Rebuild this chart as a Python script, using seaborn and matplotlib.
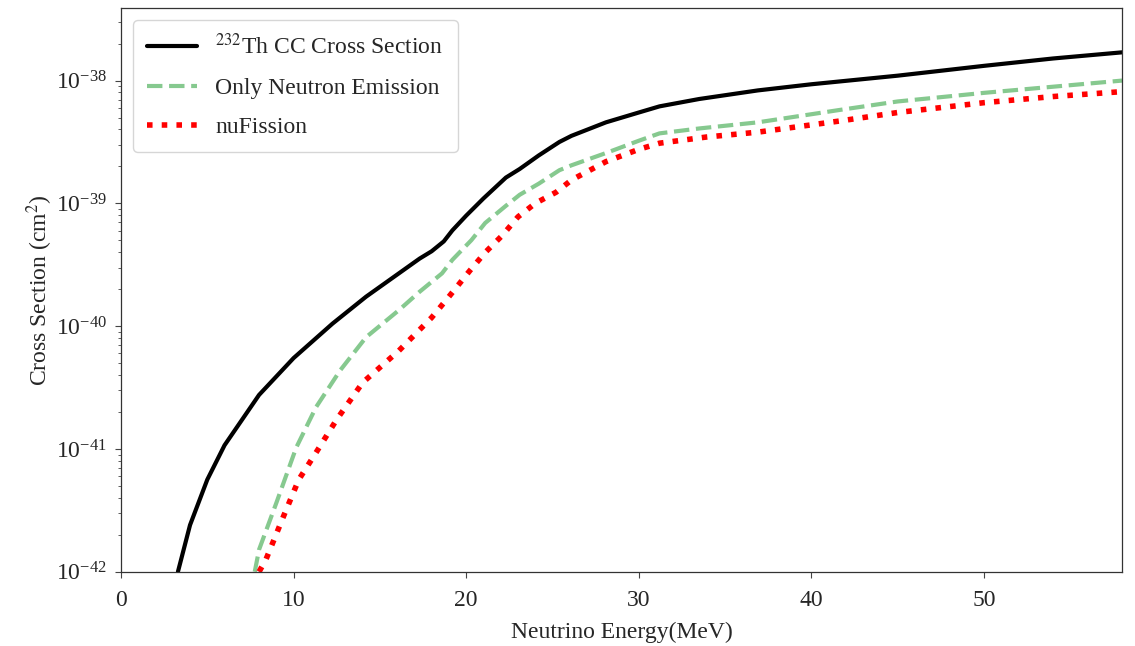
import numpy as np
import pandas as pd
import matplotlib
matplotlib.use("Agg")
import matplotlib.pyplot as plt
import matplotlib.ticker as mticker
import seaborn as sns

# Energía del neutrino (MeV) y log10 de la sección eficaz (cm^2)
energy_th = [3.3, 4.0, 5.0, 6.0, 8.0, 10.0, 12.25, 14.2, 16.1, 17.3, 18.0, 18.7, 19.2, 20.0,
             21.0, 22.3, 23.1, 24.2, 25.4, 26.1, 28.1, 30.0, 31.2, 33.5, 36.9, 40.0, 45.0,
             50.0, 54.0, 58.0]
log_th = [-42.0, -41.62, -41.25, -40.97, -40.56, -40.26, -39.98, -39.76, -39.57, -39.45,
          -39.39, -39.31, -39.22, -39.10, -38.96, -38.79, -38.72, -38.61, -38.50, -38.45,
          -38.34, -38.26, -38.21, -38.15, -38.08, -38.03, -37.96, -37.88, -37.82, -37.77]

energy_n = [7.75, 8.0, 9.0, 10.15, 11.3, 12.7, 14.2, 16.1, 17.3, 18.6, 19.2, 20.3, 21.1,
            22.3, 23.1, 24.2, 25.4, 26.1, 28.1, 30.0, 31.2, 33.5, 36.9, 41.6, 45.0, 50.0,
            54.0, 58.0]
log_n = [-42.0, -41.82, -41.44, -40.99, -40.66, -40.36, -40.09, -39.87, -39.72, -39.57,
         -39.46, -39.30, -39.16, -39.02, -38.93, -38.84, -38.73, -38.69, -38.59, -38.49,
         -38.43, -38.39, -38.34, -38.24, -38.17, -38.10, -38.05, -38.0]

energy_f = [8.0, 8.4, 9.5, 10.3, 11.3, 12.5, 14.0, 16.1, 18.0, 19.0, 20.2, 21.1, 22.1,
            23.0, 24.0, 25.2, 26.1, 28.1, 30.0, 31.2, 33.9, 36.9, 41.6, 45.0, 50.0, 54.0,
            58.0]
log_f = [-42.0, -41.9, -41.52, -41.25, -41.03, -40.76, -40.46, -40.2, -39.93, -39.76,
         -39.55, -39.40, -39.26, -39.11, -39.0, -38.91, -38.81, -38.66, -38.56, -38.51,
         -38.46, -38.42, -38.33, -38.26, -38.18, -38.13, -38.09]

y_ticks = [1e-42, 1e-41, 1e-40, 1e-39, 1e-38]
x_ticks = [0, 10, 20, 30, 40, 50]

df_th = pd.DataFrame({"E": energy_th, "xs": 10.0 ** np.array(log_th)})
df_n = pd.DataFrame({"E": energy_n, "xs": 10.0 ** np.array(log_n)})
df_f = pd.DataFrame({"E": energy_f, "xs": 10.0 ** np.array(log_f)})

sns.set_theme(style="ticks")
plt.rcParams['font.family'] = ['Liberation Serif', 'DejaVu Serif']
plt.rcParams['mathtext.fontset'] = 'stix'

fig = plt.figure(figsize=(11.35, 6.46), dpi=100)
ax = fig.add_axes([0.1066, 0.115, 0.882, 0.8726])

sns.lineplot(data=df_th, x="E", y="xs", ax=ax, color="black", linewidth=3,
             label=r"$^{232}$Th CC Cross Section")
sns.lineplot(data=df_n, x="E", y="xs", ax=ax, color="#86c98f", linewidth=3, linestyle="--",
             label="Only Neutron Emission")
sns.lineplot(data=df_f, x="E", y="xs", ax=ax, color="red", linewidth=4, linestyle=":",
             label="nuFission")

ax.set_yscale("log")
ax.set_xlim(0, 58)
ax.set_ylim(1e-42, 3.9e-38)
ax.set_xticks(x_ticks)
ax.set_yticks(y_ticks)
ax.yaxis.set_minor_locator(mticker.LogLocator(base=10, subs=np.arange(2, 10)))
ax.yaxis.set_minor_formatter(mticker.NullFormatter())
ax.tick_params(axis="both", which="major", labelsize=17, length=4, width=0.8,
               color="#444444", pad=6)
ax.tick_params(axis="x", which="major", pad=9)
ax.tick_params(axis="y", which="minor", length=2.5, width=0.6, color="#444444")
ax.set_xlabel("Neutrino Energy(MeV)", fontsize=17, labelpad=8)
ax.set_ylabel(r"Cross Section (cm$^2$)", fontsize=17, labelpad=1)
for sp in ax.spines.values():
    sp.set_linewidth(0.9)
    sp.set_color("#333333")

leg = ax.legend(loc="upper left", fontsize=17, frameon=True, framealpha=0.8,
                handlelength=2.1, borderpad=0.6, labelspacing=0.75)
leg.get_frame().set_edgecolor("#cccccc")

plt.savefig("out.png", dpi=100)
